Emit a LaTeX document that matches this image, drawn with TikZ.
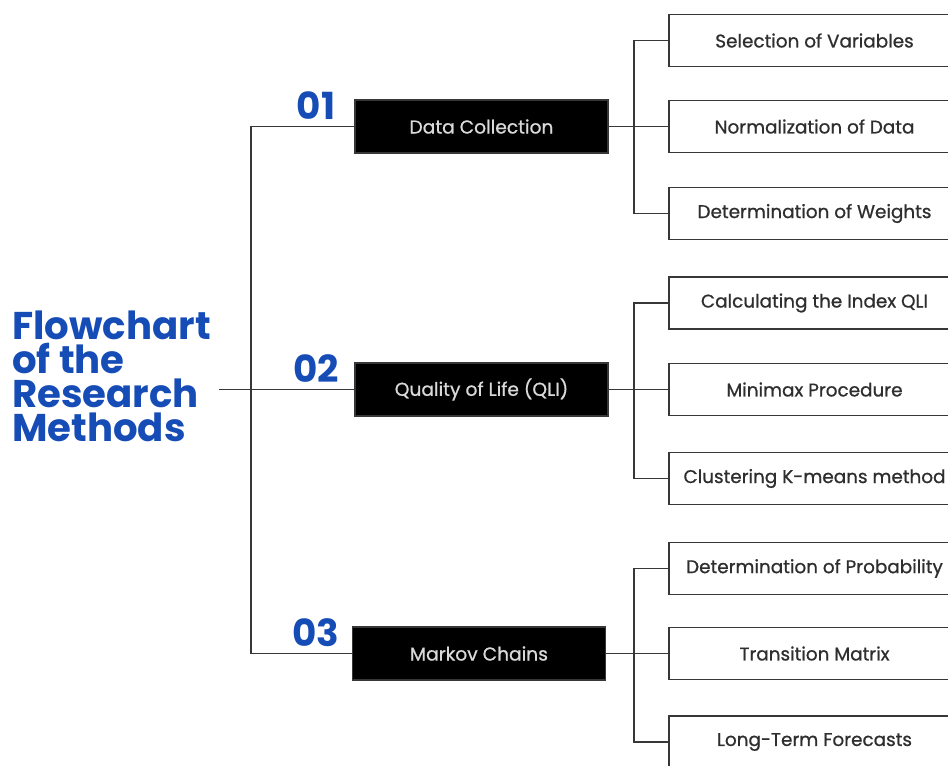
\documentclass[tikz,border=0pt]{standalone}
\usepackage{fontspec}
\setmainfont{Poppins}
\newfontfamily\boxfont[FakeBold=0.8]{Poppins}
\definecolor{titleblue}{RGB}{22,76,182}
\definecolor{linegray}{RGB}{55,55,55}

\tikzset{
  stage/.style={fill=black, draw=linegray, line width=1.2pt, text=white!85!black,
    minimum width=189.75pt, minimum height=39.75pt, inner sep=0pt,
    font=\boxfont\fontsize{14}{15}\selectfont},
  task/.style={draw=linegray, line width=1.2pt, fill=white, text=black!82,
    minimum width=218.25pt, minimum height=39pt, inner sep=0pt,
    font=\boxfont\fontsize{13.8}{15}\selectfont},
  link/.style={draw=linegray, line width=1.2pt},
  num/.style={text=titleblue, font=\fontsize{28}{28}\bfseries\selectfont}
}

\begin{document}
\begin{tikzpicture}[x=0.75pt,y=-0.75pt]

\useasboundingbox (0,0) rectangle (948,765);
\clip (0,0) rectangle (948,765);

\node[anchor=west, align=left, inner sep=0pt, text=titleblue,
  font=\fontsize{29}{25.5}\bfseries\selectfont] (title) at (12,376)
  {Flowchart\\of the\\Research\\Methods};

% stages
\node[stage] (dc) at (481.5,126.5) {Data Collection};
\node[stage] (qli) at (481.5,389.5) {Quality of Life (QLI)};
\node[stage] (mc) at (479,653.5) {Markov Chains};

\node[num] (n1) at (316,106) {01};
\node[num] (n2) at (316,369) {02};
\node[num] (n3) at (316,633) {03};

% tasks
\node[task] (sel) at (814.5,40.5) {Selection of Variables};
\node[task] (norm) at (814.5,126.5) {Normalization of Data};
\node[task] (wts) at (814.5,213.5) {Determination of Weights};

\node[task] (idx) at (814.5,303) {Calculating the Index QLI};
\node[task] (mmx) at (814.5,389.5) {Minimax Procedure};
\node[task] (km) at (814.5,478.5) {Clustering K-means method};

\node[task] (prob) at (814.5,568.5) {Determination of Probability};
\node[task] (tm) at (814.5,653.5) {Transition Matrix};
\node[task] (ltf) at (814.5,742) {Long-Term Forecasts};

\coordinate (trunk) at (251,390);
\coordinate (fork1) at (634,126);
\coordinate (fork2) at (634,390);
\coordinate (fork3) at (634,654);

\draw[link] ([xshift=6pt]title.east |- qli.west) -- (qli.west);
\draw[link] (dc.west) -| (trunk) |- (mc.west);

\draw[link] (dc.east) -- (norm.west);
\draw[link] (sel.west) -| (fork1) |- (wts.west);
\draw[link] (qli.east) -- (mmx.west);
\draw[link] (idx.west) -| (fork2) |- (km.west);
\draw[link] (mc.east) -- (tm.west);
\draw[link] (prob.west) -| (fork3) |- (ltf.west);

\end{tikzpicture}
\end{document}
